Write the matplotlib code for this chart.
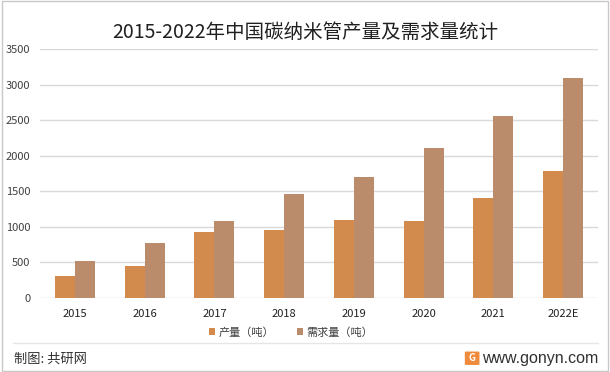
import numpy as np
import matplotlib.pyplot as plt
from matplotlib.patches import Rectangle, FancyBboxPatch
from matplotlib.lines import Line2D

plt.rcParams['font.family'] = ['Noto Sans CJK SC', 'DejaVu Sans']

years = ['2015', '2016', '2017', '2018', '2019', '2020', '2021', '2022E']
output = [310, 450, 930, 955, 1100, 1085, 1410, 1790]
demand = [520, 775, 1085, 1460, 1705, 2110, 2565, 3095]
yticks = [0, 500, 1000, 1500, 2000, 2500, 3000, 3500]

c_out = '#D38B4D'
c_dem = '#BA8C6B'

fig = plt.figure(figsize=(6.1, 3.72), dpi=100)
ax = fig.add_axes([0.0656, 0.199, 0.9147, 0.669])

x = np.arange(len(years))
w = 0.287
ax.bar(x - w / 2, output, w, color=c_out, label='产量（吨）', zorder=3)
ax.bar(x + w / 2, demand, w, color=c_dem, label='需求量（吨）', zorder=3)

ax.set_xlim(-0.5, len(years) - 0.5)
ax.set_ylim(0, 3500)
ax.set_yticks(yticks)
ax.set_yticklabels([str(v) for v in yticks], fontsize=8, color='#404040')
ax.set_xticks(x)
ax.set_xticklabels(years, fontsize=8, color='#202020')
ax.tick_params(length=0)
ax.tick_params(axis='y', pad=7)
ax.tick_params(axis='x', pad=8)
ax.grid(axis='y', color='#d9d9d9', linewidth=1, zorder=0)
for s in ax.spines.values():
    s.set_visible(False)

fig.legend(*ax.get_legend_handles_labels(), loc='center', bbox_to_anchor=(0.477, 0.107),
           ncol=2, frameon=False, fontsize=8, handlelength=0.55, handleheight=0.55,
           handletextpad=0.35, columnspacing=2.0, labelcolor='#404040')

fig.text(0.5, 0.914, '2015-2022年中国碳纳米管产量及需求量统计', ha='center', va='center',
         fontsize=14, color='#202020')

# outer frame and footer
fig.add_artist(Rectangle((0.003, 0.004), 0.993, 0.992, transform=fig.transFigure,
                         fill=False, edgecolor='#c8c8c8', linewidth=1))
fig.add_artist(Line2D([0.022, 0.98], [0.079, 0.079], transform=fig.transFigure,
                      color='#e6e6e6', linewidth=1))
fig.text(0.023, 0.035, '制图: 共研网', ha='left', va='center', fontsize=9.5, color='#303030')
fig.text(0.980, 0.037, 'www.gonyn.com', ha='right', va='center', fontsize=11.5,
         color='#303030', family='Liberation Sans')
fig.add_artist(FancyBboxPatch((0.764, 0.021), 0.02, 0.032, transform=fig.transFigure,
                              boxstyle='round,pad=0.002', facecolor='#F08A3C', edgecolor='none'))
fig.text(0.774, 0.037, 'G', ha='center', va='center', fontsize=7, color='white', weight='bold')

fig.savefig('out.png', dpi=100)
